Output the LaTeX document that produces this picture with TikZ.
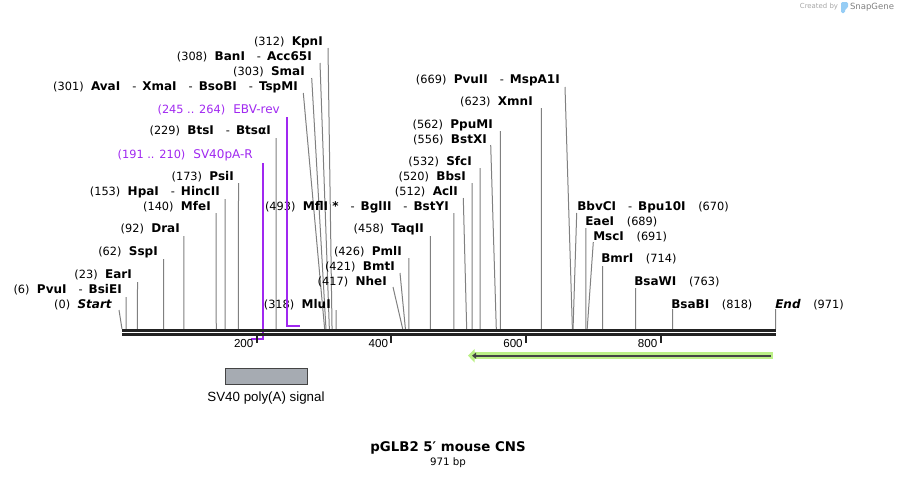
\documentclass[tikz,border=0pt]{standalone}
\usepackage{fontspec}
\setmainfont{DejaVu Sans}
\newfontfamily\arialfont{Liberation Sans}
\usetikzlibrary{arrows.meta,positioning}
\definecolor{primer}{RGB}{160,40,240}
\definecolor{seqline}{RGB}{34,34,34}
\definecolor{cutgray}{RGB}{128,128,128}
\definecolor{featfill}{RGB}{166,171,178}
\definecolor{orfgreen}{RGB}{188,240,135}
\definecolor{orfdark}{RGB}{68,68,68}
\definecolor{logoblue}{RGB}{150,205,245}
\newcommand\numf{\fontsize{8.5}{10}\selectfont\mdseries}
\newcommand\namef{\fontsize{9}{10}\selectfont\bfseries}
\newcommand\lsite[2]{{\numf(#1)}\hspace{5.5pt}{\namef #2}}
\newcommand\rsite[2]{{\namef #2}\hspace{9.5pt}{\numf(#1)}}
\newcommand\dsh{\hspace{9pt}{\numf -}\hspace{4.5pt}}
\newcommand\primertxt[2]{{\numf(#1)}\hspace{6pt}{\fontsize{9}{10}\selectfont #2}}
\begin{document}
\begin{tikzpicture}[x=0.75pt,y=-0.75pt,
    cutline/.style={cutgray, line width=0.75pt},
    lsitelbl/.style={anchor=east, inner sep=0pt},
    rsitelbl/.style={anchor=west, inner sep=0pt},
    primerline/.style={primer, line width=1.5pt},
    primerlbl/.style={anchor=east, inner sep=0pt, text=primer},
    seq/.style={seqline, line width=2.25pt},
    tick/.style={seqline, line width=1.5pt},
    ticklbl/.style={anchor=east, inner sep=0pt, font=\arialfont\fontsize{8.7}{10}\selectfont},
    featbox/.style={draw=orfdark, fill=featfill, line width=0.75pt, minimum width=61.5pt, minimum height=12pt, inner sep=0pt},
    featlbl/.style={inner sep=0pt, font=\arialfont\fontsize{10}{12}\selectfont}]
  \useasboundingbox (0,0) rectangle (898,479);

  % cut sites, labels on the left
  \foreach \id/\p/\tx/\ty/\lx/\ly/\txt in {
      start/0/119/310/112/305/{\itshape Start},
      pvu/6/126/297/122/290/{PvuI\dsh BsiEI},
      ear/23/137.5/282/132/275/{EarI},
      ssp/62/163.7/259/158/252/{SspI},
      dra/92/183.9/236/180/229/{DraI},
      mfe/140/216.2/213/211/207/{MfeI},
      hpa/153/225/199/220/192/{HpaI\dsh HincII},
      psi/173/238.5/183/234/177/{PsiI},
      bts/229/276.2/138/271/131/{BtsI\dsh BtsαI},
      ava/301/303.3/93/298/87/{AvaI\dsh XmaI\dsh BsoBI\dsh TspMI},
      sma/303/311.7/78/305/72/{SmaI},
      ban/308/320/63/312/57/{BanI\dsh Acc65I},
      kpn/312/328/48/323/42/{KpnI},
      mlu/318/336.1/310/331/305/{MluI},
      nhe/417/393/287/387/282/{NheI},
      bmt/421/400/273/395/267/{BmtI},
      pml/426/408.8/258/402/252/{PmlI},
      taq/458/430.3/236/424/229/{TaqII},
      mfl/493/453.9/213/449/207/{MflI *\dsh BglII\dsh BstYI},
      acl/512/463.3/198/458/192/{AclI},
      bbs/520/472.1/183/466/177/{BbsI},
      sfc/532/480.1/168/472/162/{SfcI},
      bstx/556/490.7/145/487/140/{BstXI},
      ppu/562/500.3/131/493/125/{PpuMI},
      xmn/623/541.4/108/533/102/{XmnI},
      pvuii/669/565/87/560/80/{PvuII\dsh MspA1I}}{
    \coordinate (site-\id) at ({122+0.6732*\p},329);
    \coordinate (top-\id) at (\tx,\ty);
    \node[lsitelbl] (lbl-\id) at (\lx,\ly) {\lsite{\p}{\txt}};
    \draw[cutline] (site-\id) -- (top-\id);
  }

  % cut sites, labels on the right
  \foreach \id/\p/\tx/\ty/\lx/\ly/\txt in {
      bbv/670/576.7/213/577/207/{BbvCI\dsh Bpu10I},
      eae/689/585.8/228/585/222/{EaeI},
      msc/691/593.3/242/593/237/{MscI},
      bmr/714/602.7/266/601/259/{BmrI},
      bsaw/763/635.7/288/634/282/{BsaWI},
      bsab/818/672.7/309/671/305/{BsaBI},
      fin/971/775.7/309/775/305/{\itshape End}}{
    \coordinate (site-\id) at ({122+0.6732*\p},329);
    \coordinate (top-\id) at (\tx,\ty);
    \node[rsitelbl] (lbl-\id) at (\lx,\ly) {\rsite{\p}{\txt}};
    \draw[cutline] (site-\id) -- (top-\id);
  }

  % primers
  \node[primerlbl] (ebv) at (280,110) {\primertxt{245 .. 264}{EBV-rev}};
  \coordinate (ebv-top) at (287,117);
  \coordinate (ebv-bot) at (287,325.7);
  \coordinate (ebv-end) at (300,325.7);
  \draw[primerline] (ebv-top) -- (ebv-bot) -- (ebv-end);
  \node[primerlbl] (sv40r) at (253,155) {\primertxt{191 .. 210}{SV40pA-R}};
  \coordinate (sv40r-top) at (263.4,163);
  \coordinate (sv40r-bot) at (263.4,339);
  \coordinate (sv40r-end) at (250.6,339);
  \draw[primerline] (sv40r-top) -- (sv40r-bot) -- (sv40r-end);

  % sequence
  \coordinate (seqa-l) at (122,330.5);
  \coordinate (seqa-r) at (776,330.5);
  \coordinate (seqb-l) at (122,334.5);
  \coordinate (seqb-r) at (776,334.5);
  \draw[seq] (seqa-l) -- (seqa-r);
  \draw[seq] (seqb-l) -- (seqb-r);
  \foreach \b in {200,400,600,800}{
    \coordinate (tk\b) at ({122+0.6732*\b},336);
    \draw[tick] (tk\b) -- ++(0,7);
    \node[ticklbl] (tl\b) at ([shift={(-3,7)}]tk\b) {\b};
  }

  % features
  \coordinate (orf-r) at (772.7,355.7);
  \coordinate (orf-l) at (468,355.7);
  \draw[orfgreen, line width=5.2pt, -{Triangle[length=5pt,width=10pt]}] (orf-r) -- (orf-l);
  \draw[orfdark, line width=1.5pt, -{Triangle[length=3pt,width=4.5pt]}] ([xshift=-1.5]orf-r) -- ([xshift=3]orf-l);
  \node[featbox] (polya) at (266,376) {};
  \node[featlbl] (polya-lbl) at (266,398) {SV40 poly(A) signal};

  % title
  \node[inner sep=0pt, font=\bfseries\fontsize{10}{12}\selectfont] (title) at (448,448) {pGLB2 5′ mouse CNS};
  \node[inner sep=0pt, font=\fontsize{7.7}{9}\selectfont] (size) at (448,463) {971 bp};

  % logo
  \node[inner sep=0pt, text=black!35, font=\fontsize{5.2}{6}\selectfont] (created) at (819,7) {Created by};
  \fill[logoblue, rounded corners=1pt] (841,2) -- (848,2) -- (848,8) -- (845,9) -- (845,13) -- (841,13) -- cycle;
  \node[inner sep=0pt, text=black!50, font=\fontsize{6.4}{7}\selectfont] (snapgene) at (872,7) {SnapGene};
\end{tikzpicture}
\end{document}
